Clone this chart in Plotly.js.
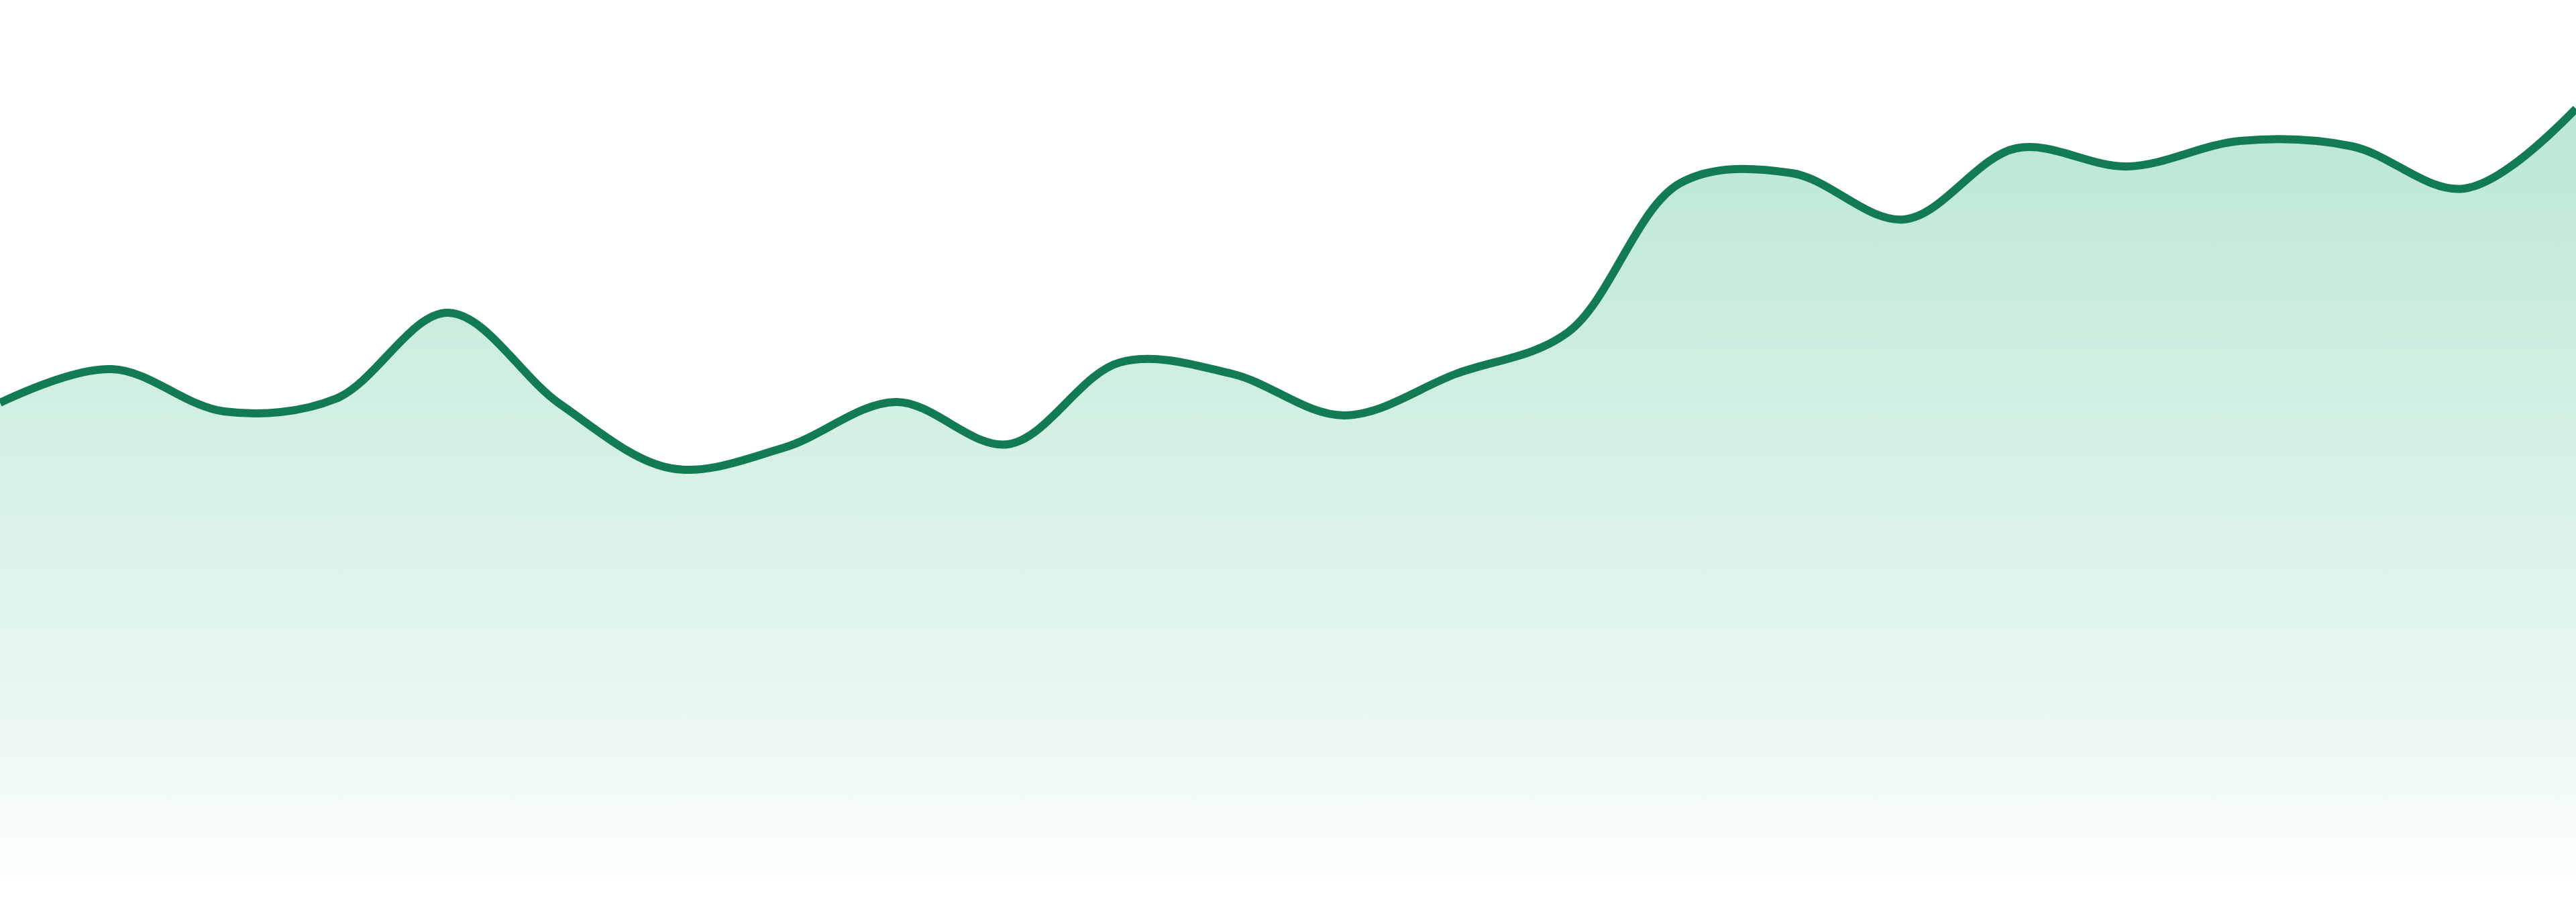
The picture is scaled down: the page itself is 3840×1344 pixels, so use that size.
<!DOCTYPE html>
<html>
<head>
<meta charset="utf-8">
<script src="https://cdn.plot.ly/plotly-3.0.1.min.js"></script>
<style>
  html, body { margin: 0; padding: 0; background: #ffffff; }
  #chart { width: 3840px; height: 1344px; }
</style>
</head>
<body>
<div id="chart"></div>
<script>
// one point per period
var periods = [0, 1, 2, 3, 4, 5, 6, 7, 8, 9, 10, 11,
               12, 13, 14, 15, 16, 17, 18, 19, 20, 21, 22, 23];
var values = [705, 755, 692, 711, 839, 703, 607, 638, 706, 643, 765, 748,
              686, 748, 810, 1032, 1047, 978, 1084, 1057, 1095, 1087, 1024, 1143];

var lineColor = '#127b52';

var trace = {
  x: periods,
  y: values,
  type: 'scatter',
  mode: 'lines',
  line: { color: lineColor, width: 12, shape: 'spline', smoothing: 1 },
  fill: 'tozeroy',
  fillgradient: {
    type: 'vertical',
    start: 0,
    stop: 1100,
    colorscale: [
      [0, 'rgba(40,180,120,0.02)'],
      [0.17, 'rgba(40,180,120,0.08)'],
      [0.28, 'rgba(40,180,120,0.12)'],
      [0.55, 'rgba(40,180,120,0.19)'],
      [1, 'rgba(40,180,120,0.31)']
    ]
  },
  hoverinfo: 'skip'
};

var layout = {
  width: 3840,
  height: 1344,
  margin: { l: 0, r: 0, t: 0, b: 39 },
  paper_bgcolor: '#ffffff',
  plot_bgcolor: '#ffffff',
  showlegend: false,
  xaxis: { range: [0, 23], visible: false, fixedrange: true },
  yaxis: { range: [0, 1305], visible: false, fixedrange: true }
};

Plotly.newPlot('chart', [trace], layout, { displayModeBar: false, staticPlot: true });
</script>
</body>
</html>
